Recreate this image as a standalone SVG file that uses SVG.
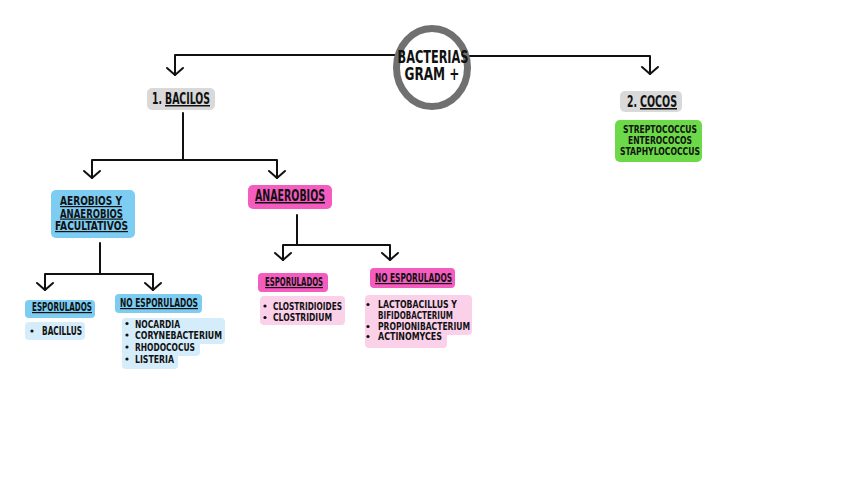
<svg xmlns="http://www.w3.org/2000/svg" width="848" height="477" viewBox="0 0 848 477">
<style>
text{font-family:"DejaVu Sans Condensed","DejaVu Sans","Liberation Sans",sans-serif;font-weight:bold;fill:#111;font-stretch:condensed}
.t{font-size:12px}
.l{font-size:11px}
.h{font-size:15px}
.u{text-decoration:underline}
.c{stroke:#111;stroke-width:2;fill:none;stroke-linecap:round;stroke-linejoin:round}
.gray{fill:#d9d9d9}
.blue{fill:#7dcdf3}
.lblue{fill:#d5edfa}
.pink{fill:#f55cbf}
.lpink{fill:#fbd1ea}
.green{fill:#6cda48}
</style>
<defs>
<marker id="arr" markerUnits="userSpaceOnUse" markerWidth="20" markerHeight="20" refX="10" refY="10" orient="auto" viewBox="0 0 20 20">
<path d="M3,2 L10,10 L3,18" fill="none" stroke="#111" stroke-width="2" stroke-linecap="round" stroke-linejoin="round"/>
</marker>
</defs>
<rect width="848" height="477" fill="#fff"/>
<g id="connectors">
<path class="c" d="M396,55 L175,55 L175,75" marker-end="url(#arr)"/>
<path class="c" d="M468,56 L650,56 L650,74" marker-end="url(#arr)"/>
<path class="c" d="M183,113 L183,160"/>
<path class="c" d="M183,160 L92,160 L92,178" marker-end="url(#arr)"/>
<path class="c" d="M183,160 L277,160 L277,178" marker-end="url(#arr)"/>
<path class="c" d="M100,243 L100,274"/>
<path class="c" d="M100,274 L45,274 L45,290" marker-end="url(#arr)"/>
<path class="c" d="M100,274 L153,274 L153,290" marker-end="url(#arr)"/>
<path class="c" d="M297,215 L297,245"/>
<path class="c" d="M297,245 L283,245 L283,260" marker-end="url(#arr)"/>
<path class="c" d="M297,245 L390,245 L390,260" marker-end="url(#arr)"/>
</g>
<g id="root">
<ellipse cx="432" cy="67.5" rx="35.5" ry="39" fill="#fff" stroke="#707070" stroke-width="7"/>
<text x="433" y="63" font-size="18" text-anchor="middle" textLength="71" lengthAdjust="spacingAndGlyphs">BACTERIAS</text>
<text x="432" y="80" font-size="18" text-anchor="middle" textLength="55" lengthAdjust="spacingAndGlyphs">GRAM +</text>
</g>
<g id="bacilos">
<rect class="gray" x="147" y="88" width="68" height="22" rx="5"/>
<text class="h" x="152" y="104" textLength="10" lengthAdjust="spacingAndGlyphs">1.</text>
<text class="h u" x="165" y="104" textLength="45" lengthAdjust="spacingAndGlyphs">BACILOS</text>
</g>
<g id="cocos">
<rect class="gray" x="620" y="91" width="62" height="21" rx="5"/>
<text class="h" x="627" y="107" textLength="10" lengthAdjust="spacingAndGlyphs">2.</text>
<text class="h u" x="640" y="107" textLength="37" lengthAdjust="spacingAndGlyphs">COCOS</text>
</g>
<g id="cocos-list">
<rect class="green" x="615" y="120" width="87" height="42" rx="5"/>
<text class="l" x="660" y="133" text-anchor="middle" textLength="74" lengthAdjust="spacingAndGlyphs">STREPTOCOCCUS</text>
<text class="l" x="660" y="143.5" text-anchor="middle" textLength="64" lengthAdjust="spacingAndGlyphs">ENTEROCOCOS</text>
<text class="l" x="660" y="154.5" text-anchor="middle" textLength="80" lengthAdjust="spacingAndGlyphs">STAPHYLOCOCCUS</text>
</g>
<g id="aerobios">
<rect class="blue" x="51" y="190" width="84" height="48" rx="5"/>
<text class="t u" x="60" y="205" textLength="62" lengthAdjust="spacingAndGlyphs">AEROBIOS Y</text>
<text class="t u" x="60" y="217.5" textLength="63" lengthAdjust="spacingAndGlyphs">ANAEROBIOS</text>
<text class="t u" x="55" y="230" textLength="73" lengthAdjust="spacingAndGlyphs">FACULTATIVOS</text>
</g>
<g id="anaerobios">
<rect class="pink" x="248" y="185" width="84" height="24" rx="5"/>
<text class="h u" x="255" y="201" textLength="70" lengthAdjust="spacingAndGlyphs">ANAEROBIOS</text>
</g>
<g id="esp-blue">
<rect class="blue" x="25" y="300" width="70" height="18" rx="4"/>
<text class="t u" x="32" y="311" textLength="60" lengthAdjust="spacingAndGlyphs">ESPORULADOS</text>
</g>
<g id="noesp-blue">
<rect class="blue" x="115" y="294" width="87" height="19" rx="4"/>
<text class="t u" x="120" y="307" textLength="78" lengthAdjust="spacingAndGlyphs">NO ESPORULADOS</text>
</g>
<g id="bacillus">
<rect class="lblue" x="25" y="322" width="60" height="18" rx="4"/>
<circle cx="32" cy="331" r="1.6" fill="#111"/>
<text class="t" x="42" y="335" textLength="40" lengthAdjust="spacingAndGlyphs">BACILLUS</text>
</g>
<g id="noesp-blue-list">
<rect class="lblue" x="122" y="318" width="103" height="26" rx="4"/>
<rect class="lblue" x="122" y="340" width="78" height="16" rx="4"/>
<rect class="lblue" x="122" y="352" width="56" height="17" rx="4"/>
<circle cx="127" cy="323.5" r="1.6" fill="#111"/>
<text class="l" x="135" y="327.5" textLength="45" lengthAdjust="spacingAndGlyphs">NOCARDIA</text>
<circle cx="127" cy="335" r="1.6" fill="#111"/>
<text class="l" x="135" y="339" textLength="87" lengthAdjust="spacingAndGlyphs">CORYNEBACTERIUM</text>
<circle cx="127" cy="347" r="1.6" fill="#111"/>
<text class="l" x="135" y="351" textLength="60" lengthAdjust="spacingAndGlyphs">RHODOCOCUS</text>
<circle cx="127" cy="359" r="1.6" fill="#111"/>
<text class="l" x="135" y="363" textLength="39" lengthAdjust="spacingAndGlyphs">LISTERIA</text>
</g>
<g id="esp-pink">
<rect class="pink" x="258" y="273" width="70" height="19" rx="4"/>
<text class="t u" x="265" y="286" textLength="58" lengthAdjust="spacingAndGlyphs">ESPORULADOS</text>
</g>
<g id="noesp-pink">
<rect class="pink" x="370" y="268" width="85" height="20" rx="4"/>
<text class="t u" x="375" y="282" textLength="77" lengthAdjust="spacingAndGlyphs">NO ESPORULADOS</text>
</g>
<g id="esp-pink-list">
<rect class="lpink" x="260" y="296" width="85" height="29" rx="4"/>
<circle cx="265" cy="306" r="1.6" fill="#111"/>
<text class="l" x="273" y="309.5" textLength="69" lengthAdjust="spacingAndGlyphs">CLOSTRIDIOIDES</text>
<circle cx="265" cy="317.5" r="1.6" fill="#111"/>
<text class="l" x="273" y="321" textLength="59" lengthAdjust="spacingAndGlyphs">CLOSTRIDIUM</text>
</g>
<g id="noesp-pink-list">
<rect class="lpink" x="365" y="295" width="107" height="40" rx="4"/>
<rect class="lpink" x="365" y="330" width="82" height="18" rx="4"/>
<circle cx="368" cy="304.5" r="1.6" fill="#111"/>
<text class="l" x="378" y="308" textLength="79" lengthAdjust="spacingAndGlyphs">LACTOBACILLUS Y</text>
<text class="l" x="378" y="318.5" textLength="75" lengthAdjust="spacingAndGlyphs">BIFIDOBACTERIUM</text>
<circle cx="368" cy="326.5" r="1.6" fill="#111"/>
<text class="l" x="378" y="330" textLength="92" lengthAdjust="spacingAndGlyphs">PROPIONIBACTERIUM</text>
<circle cx="368" cy="336.5" r="1.6" fill="#111"/>
<text class="l" x="378" y="340" textLength="64" lengthAdjust="spacingAndGlyphs">ACTINOMYCES</text>
</g>
</svg>
